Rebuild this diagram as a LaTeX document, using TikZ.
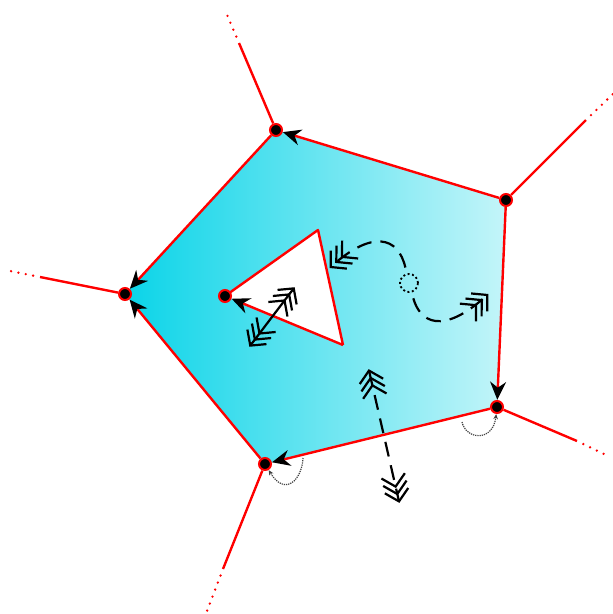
\documentclass[tikz,border=0pt]{standalone}
\usepackage{tikz}
\usetikzlibrary{arrows.meta}
\definecolor{faceleft}{RGB}{10,212,232}
\definecolor{faceright}{RGB}{196,245,249}

\begin{document}
\begin{tikzpicture}[x=1pt,y=-1pt,
  >={Straight Barb[length=11pt,width=24pt,line width=2.2pt,sep=-6pt]},
  spot/.style={circle, minimum size=14pt, inner sep=0pt},
  vtx/.style={circle, fill=black, draw=red, line width=2pt, minimum size=12pt, inner sep=0pt},
  edge/.style={red, line width=2.4pt},
  hedge/.style={edge, -{Stealth[black,length=18pt,width=16pt]}},
  fade/.style={red, line width=2.6pt, line cap=round, dash pattern=on 0pt off 7.5pt},
  walk/.style={black, line width=2.2pt, dash pattern=on 15pt off 9pt},
  twin/.style={black!75, line width=1.2pt, densely dotted, -{Stealth[length=5pt,width=4.5pt]}}]

\useasboundingbox (0,0) rectangle (613,614);

% vertices of the face
\node[spot] (va) at (276,130) {};
\node[spot] (vb) at (506,200) {};
\node[spot] (vc) at (497,407) {};
\node[spot] (vd) at (265,464) {};
\node[spot] (ve) at (125,294) {};
% hole
\node[spot] (ta) at (225,296) {};
\coordinate (tb) at (318,230);
\coordinate (tc) at (343,345);

\shade[left color=faceleft, right color=faceright] (va.center) -- (vb.center) -- (vc.center) -- (vd.center) -- (ve.center) -- cycle;
\fill[white] (ta.center) -- (tb) -- (tc) -- cycle;

% rays
\coordinate (ra) at (239,43);  \coordinate (ra2) at (225,10);
\coordinate (rb) at (586,120); \coordinate (rb2) at (613,94);
\coordinate (rc) at (577,441); \coordinate (rc2) at (604,454);
\coordinate (rd) at (223,569); \coordinate (rd2) at (207,611);
\coordinate (re) at (40,277);  \coordinate (re2) at (10,271);
\foreach \v/\r in {va/ra,vb/rb,vc/rc,vd/rd,ve/re} {
  \draw[edge] (\v) -- (\r);
  \draw[fade, shorten <=7pt] (\r) -- (\r2);
}

% boundary edges
\draw[hedge] (vb) -- (va);
\draw[hedge] (va) -- (ve);
\draw[hedge] (vd) -- (ve);
\draw[hedge] (vb) -- (vc);
\draw[hedge] (vc) -- (vd);
\draw[edge, line join=round] (ta.center) -- (tb) -- (tc);
\draw[hedge] (tc) -- (ta);

% walks
\node[circle, draw, dash pattern=on 2pt off 2.5pt, line width=1.8pt, minimum size=18pt, inner sep=0pt] (mid) at (409,283) {};
\coordinate (wl) at (334,264);
\coordinate (wr) at (484,298);
\draw[walk, shorten <=6pt, ->>>] (mid) .. controls (398,236) and (372,230) .. (wl);
\draw[walk, shorten <=6pt, ->>>] (mid) .. controls (420,322) and (442,336) .. (wr);
\coordinate (sa) at (253,342);
\coordinate (sb) at (291,292);
\draw[black, line width=2.2pt, <<<->>>] (sa) -- (sb);
\coordinate (ua) at (370,375);
\coordinate (ub) at (398,497);
\draw[walk, <<<->>>] (ua) -- (ub);

% twins
\coordinate (tw1) at (462,422);
\coordinate (tw2) at (303,458);
\draw[twin] (tw1) .. controls (466,440) and (493,442) .. (vc);
\draw[twin] (tw2) .. controls (302,480) and (285,497) .. (vd);

\foreach \v in {va,vb,vc,vd,ve,ta}
  \node[vtx] at (\v) {};
\end{tikzpicture}
\end{document}
